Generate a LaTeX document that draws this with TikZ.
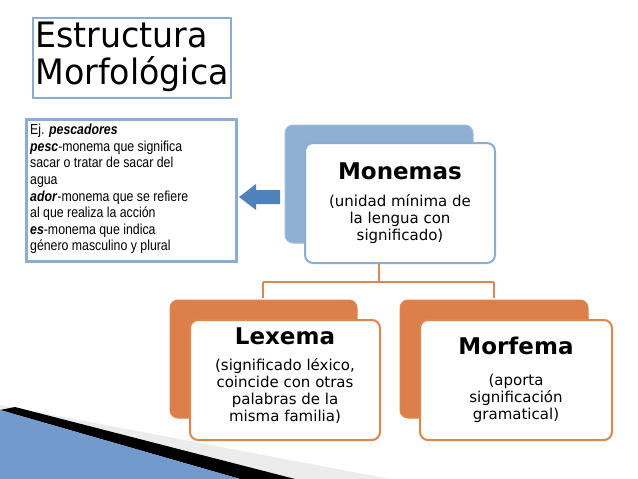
\documentclass[tikz,border=0pt]{standalone}
\usepackage{fontspec}
\setmainfont{DejaVu Sans}
\newfontfamily\arialf{Liberation Sans}
\definecolor{bluefill}{HTML}{8FB0D3}
\definecolor{blueline}{HTML}{8AAED3}
\definecolor{orfill}{HTML}{DC7F4A}
\definecolor{orline}{HTML}{DD8650}
\definecolor{arrowblue}{HTML}{4F81BD}
\tikzset{
  backbox/.style={rounded corners=8pt, line width=1pt},
  frontbox/.style={rounded corners=8pt, line width=2pt, fill=white},
  head/.style={font=\bfseries\fontsize{23}{25}\selectfont, anchor=center},
  sub/.style={font=\fontsize{15}{17}\selectfont, align=center, anchor=center},
  conn/.style={orline, line width=2.5pt},
}
\begin{document}
\begin{tikzpicture}[x=1pt,y=-1pt]
\useasboundingbox (0,0) rectangle (638,479);
% swoosh
\fill[gray!15] (0,405) -- (390,479) -- (0,479) -- cycle;
\fill[black] (15,407) -- (295,479) -- (240,479) -- (0,410) -- cycle;
\fill[arrowblue!80] (0,410) -- (240,479) -- (0,479) -- cycle;
% title
\node[draw=blueline, line width=2pt, minimum width=198pt, minimum height=80pt, anchor=north west, inner sep=0pt] (title) at (32,17) {};
\node[font=\fontsize{35}{37}\selectfont, align=left, anchor=west, xscale=0.95] (tt) at (32,57) {Estructura\\Morfológica};
% example box
\node[draw=blueline, line width=2.5pt, minimum width=210pt, minimum height=142pt, anchor=north west, inner sep=0pt] (ex) at (25,118) {};
\node[font=\arialf\fontsize{14.5}{16.6}\selectfont, align=left, anchor=north west, inner sep=0pt, xscale=0.85] (ext) at (30,124) {Ej. \textbf{\textit{pescadores}}\\\textbf{\textit{pesc}}-monema que significa\\sacar o tratar de sacar del\\agua\\\textbf{\textit{ador}}-monema que se refiere\\al que realiza la acción\\\textbf{\textit{es}}-monema que indica\\género masculino y plural};
% arrow
\fill[arrowblue] (280,190) -- (256,190) -- (256,184) -- (239,197) -- (256,210) -- (256,204) -- (280,204) -- cycle;
\coordinate (arr) at (260,197);
% Monemas
\draw[backbox, fill=bluefill, draw=blueline!80] (285,125) rectangle (473,243);
\draw[frontbox, draw=blueline] (305,143) rectangle (495,263);
\node[head] (mon) at (400,171) {Monemas};
\node[sub] (mons) at (400,219) {(unidad mínima de\\la lengua con\\significado)};
% Lexema
\draw[backbox, fill=orfill, draw=orline] (170,300) rectangle (357,418);
\draw[frontbox, draw=orline] (190,320) rectangle (380,440);
\node[head] (lex) at (285,336) {Lexema};
\node[sub] (lexs) at (285,391) {(significado léxico,\\coincide con otras\\palabras de la\\misma familia)};
% Morfema
\draw[backbox, fill=orfill, draw=orline] (400,300) rectangle (588,418);
\draw[frontbox, draw=orline] (420,320) rectangle (612,440);
\node[head] (mor) at (516,346) {Morfema};
\node[sub] (mors) at (516,398) {(aporta\\significación\\gramatical)};
% connectors
\coordinate (c0) at (379,263);
\coordinate (c1) at (379,282);
\coordinate (cl) at (263,282);
\coordinate (cr) at (494,282);
\draw[conn] (c0) -- (c1);
\draw[conn] (cl) -- (cr);
\draw[conn] (cl) -- (263,298);
\draw[conn] (cr) -- (494,298);
\end{tikzpicture}
\end{document}
